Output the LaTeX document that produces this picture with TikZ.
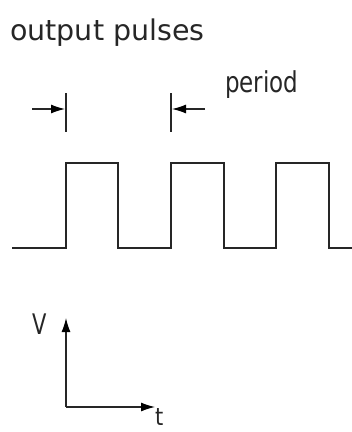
\documentclass[tikz,border=0pt]{standalone}
\usepackage{tikz}
\usepackage{graphicx}
\usepackage{fontspec}
\setsansfont{DejaVu Sans}
\usetikzlibrary{arrows.meta,positioning,calc}

\begin{document}
\begin{tikzpicture}[
    x=1pt, y=-1pt,
    wave/.style={line width=1.3pt, color=black!85},
    tick/.style={line width=1.2pt, color=black!85},
    label/.style={font=\sffamily, inner sep=0pt, anchor=base west, color=black!85},
    arrow/.style={-{Latex[length=14pt, width=9pt, color=black]}, line width=1.2pt, color=black!85}
]
\useasboundingbox (0,0) rectangle (352,432);

\node[label, font=\sffamily\fontsize{28.5}{30}\selectfont] (title) at (10,40) {output pulses};

% period markers
\coordinate (tickA) at (66,93);
\coordinate (tickB) at (171,93);
\draw[tick] (tickA) -- ++(0,39);
\draw[tick] (tickB) -- ++(0,39);
\coordinate (fromA) at (32,109);
\coordinate (fromB) at (205,109);
\draw[arrow] (fromA) -- (65,109);
\draw[arrow] (fromB) -- (172,109);
\node[label, font=\sffamily\fontsize{23}{25}\selectfont] (period) at (225,92) {\scalebox{1}[1.25]{period}};

% pulse train
\draw[wave] (12,248) -- (66,248) -- (66,163) -- (118,163) -- (118,248)
    -- (171,248) -- (171,163) -- (224,163) -- (224,248)
    -- (276,248) -- (276,163) -- (329,163) -- (329,248) -- (352,248);

% axes
\coordinate (origin) at (66,407);
\coordinate (vtop) at (66,318);
\coordinate (tend) at (155,407);
\draw[arrow] (origin) -- (vtop);
\draw[arrow] (origin) -- (tend);
\node[label, font=\sffamily\fontsize{21}{23}\selectfont] (vlab) at (32,334) {\scalebox{1}[1.35]{V}};
\node[label, font=\sffamily\fontsize{21}{23}\selectfont] (tlab) at (155,425) {\scalebox{1}[1.15]{t}};
\end{tikzpicture}
\end{document}
